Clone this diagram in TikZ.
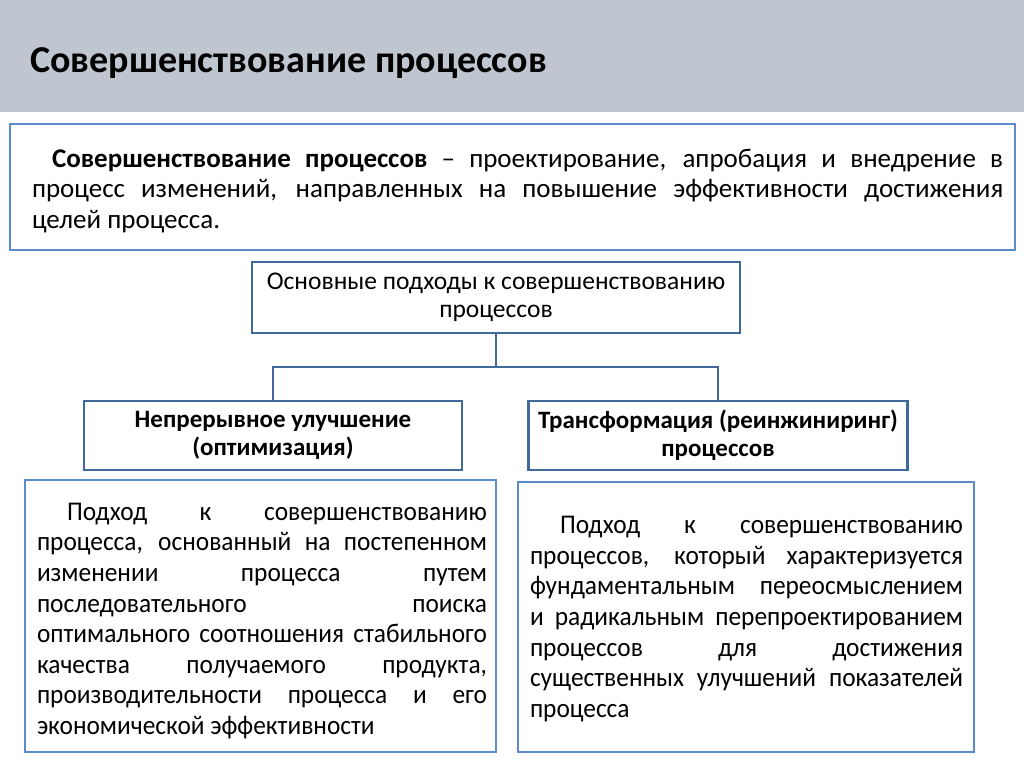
\documentclass[tikz,border=0pt]{standalone}
\usepackage{fontspec}
\setmainfont{Carlito}
\newfontfamily\bodyfam[FakeStretch=0.94]{Carlito}
\definecolor{hdr}{RGB}{192,198,207}
\definecolor{lightblue}{RGB}{91,138,205}
\definecolor{darkblue}{RGB}{64,106,158}
\tikzset{
  outerbox/.style={draw=lightblue, line width=2.8pt, fill=white, inner sep=0pt},
  midbox/.style={draw=darkblue, line width=2.4pt, fill=white, inner sep=0pt, align=center},
  conn/.style={draw=darkblue, line width=2.4pt, line join=miter},
  bodytext/.style={inner sep=0pt, align=justify}
}
\newcommand{\bodyfont}[1]{\bodyfam\fontsize{27}{#1}\selectfont\tolerance=10000\hyphenpenalty=10000}
\newcommand{\deffont}{\fontsize{27}{30.5}\selectfont\tolerance=10000\hyphenpenalty=10000}
\begin{document}
\begin{tikzpicture}[x=1pt,y=-1pt]
\useasboundingbox (0,0) rectangle (1024,767);
\fill[white] (0,0) rectangle (1024,767);
% header band
\fill[hdr] (0,0) rectangle (1024,112);
\node[anchor=base west, inner sep=0pt, font=\fontsize{38}{42}\selectfont\bfseries] (title) at (30,73) {Совершенствование процессов};

% definition box
\node[outerbox, minimum width=1005pt, minimum height=126pt] (defbox) at (512.5,187) {};
\node[bodytext, text width=971pt] (deftext) at (517.5,191) {\deffont\hspace*{20pt}\textbf{Совершенствование процессов} – проектирование, апробация и внедрение в\linebreak процесс изменений, направленных на повышение эффективности достижения\linebreak целей процесса.\par};

% main approaches box
\node[midbox, minimum width=488pt, minimum height=71pt, font=\fontsize{25.5}{28}\selectfont] (mid) at (496,297.5) {Основные подходы к совершенствованию\\процессов};

% two approach boxes
\node[midbox, minimum width=378pt, minimum height=69pt, font=\fontsize{25}{28}\selectfont\bfseries] (left) at (273,435.5) {Непрерывное улучшение\\(оптимизация)};
\node[midbox, minimum width=379pt, minimum height=69pt, font=\fontsize{25}{28}\selectfont\bfseries] (right) at (718,435.5) {Трансформация (реинжиниринг)\\процессов};

% connectors
\coordinate (j) at (496,367);
\draw[conn] (mid.south) -- (j);
\draw[conn] (left.north) |- (j) -| (right.north);

% description boxes
\node[outerbox, minimum width=471pt, minimum height=272pt] (lbox) at (260.5,616) {};
\node[bodytext, text width=450pt] (ltext) at (262,621) {\bodyfont{30.6}\hspace*{30pt}Подход к совершенствованию\linebreak процесса, основанный на постепенном\linebreak изменении процесса путем\linebreak последовательного поиска\linebreak оптимального соотношения стабильного\linebreak качества получаемого продукта,\linebreak производительности процесса и его\linebreak экономической эффективности\par};

\node[outerbox, minimum width=456pt, minimum height=270pt] (rbox) at (746,617) {};
\node[bodytext, text width=433pt] (rtext) at (746.5,619) {\bodyfont{30.6}\hspace*{30pt}Подход к совершенствованию\linebreak процессов, который характеризуется\linebreak фундаментальным переосмыслением\linebreak и радикальным перепроектированием\linebreak процессов для достижения\linebreak существенных улучшений показателей\linebreak процесса\par};
\end{tikzpicture}
\end{document}
